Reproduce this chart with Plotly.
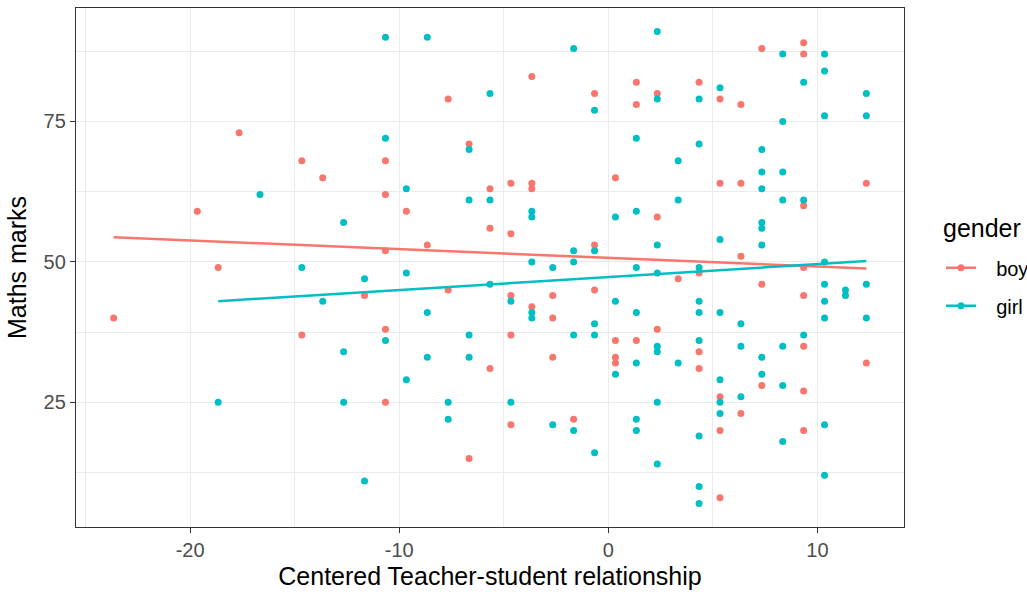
import plotly.graph_objects as go

# Centered teacher-student relationship scores and maths marks, by gender
boy_rel = [
    -23.66, -19.66, -18.66, -17.66, -14.66, -14.66, -13.66, -11.66,
    -10.66, -10.66, -10.66, -10.66, -10.66, -9.66, -8.66, -7.66, -7.66,
    -6.66, -6.66, -5.66, -5.66, -5.66,
    -4.66, -4.66, -4.66, -4.66, -4.66,
    -3.66, -3.66, -3.66, -3.66,
    -2.66, -2.66, -2.66, -1.66,
    -0.66, -0.66, -0.66,
    0.34, 0.34, 0.34, 0.34,
    1.34, 1.34, 1.34,
    2.34, 2.34, 2.34, 3.34,
    4.34, 4.34, 4.34, 4.34,
    5.34, 5.34, 5.34, 5.34, 5.34,
    6.34, 6.34, 6.34, 6.34,
    7.34, 7.34, 7.34,
    9.34, 9.34, 9.34, 9.34, 9.34, 9.34, 9.34, 9.34,
    12.34, 12.34,
]
boy_marks = [
    40, 59, 49, 73, 68, 37, 65, 44,
    68, 62, 52, 38, 25, 59, 53, 79, 45,
    71, 15, 63, 56, 31,
    64, 55, 44, 37, 21,
    83, 64, 63, 42,
    44, 40, 33, 22,
    80, 53, 45,
    65, 36, 33, 32,
    82, 78, 36,
    80, 58, 38, 47,
    82, 48, 34, 31,
    79, 64, 26, 20, 8,
    78, 64, 51, 23,
    88, 46, 28,
    89, 87, 60, 49, 44, 35, 27, 20,
    64, 32,
]

girl_rel = [
    -18.66, -16.66, -14.66, -13.66,
    -12.66, -12.66, -12.66,
    -11.66, -11.66,
    -10.66, -10.66, -10.66,
    -9.66, -9.66, -9.66,
    -8.66, -8.66, -8.66,
    -7.66, -7.66,
    -6.66, -6.66, -6.66, -6.66,
    -5.66, -5.66, -5.66,
    -4.66, -4.66,
    -3.66, -3.66, -3.66, -3.66, -3.66,
    -2.66, -2.66,
    -1.66, -1.66, -1.66, -1.66, -1.66,
    -0.66, -0.66, -0.66, -0.66, -0.66,
    0.34, 0.34, 0.34,
    1.34, 1.34, 1.34, 1.34, 1.34, 1.34, 1.34,
    2.34, 2.34, 2.34, 2.34, 2.34, 2.34, 2.34, 2.34,
    3.34, 3.34, 3.34,
    4.34, 4.34, 4.34, 4.34, 4.34, 4.34, 4.34, 4.34, 4.34,
    5.34, 5.34, 5.34, 5.34, 5.34, 5.34,
    6.34, 6.34, 6.34,
    7.34, 7.34, 7.34, 7.34, 7.34, 7.34, 7.34, 7.34,
    8.34, 8.34, 8.34, 8.34, 8.34, 8.34, 8.34,
    9.34, 9.34, 9.34,
    10.34, 10.34, 10.34, 10.34, 10.34, 10.34, 10.34, 10.34, 10.34,
    11.34, 11.34,
    12.34, 12.34, 12.34, 12.34,
]
girl_marks = [
    25, 62, 49, 43,
    57, 34, 25,
    47, 11,
    90, 72, 36,
    63, 48, 29,
    90, 41, 33,
    25, 22,
    70, 61, 37, 33,
    80, 61, 46,
    43, 25,
    59, 58, 50, 41, 40,
    49, 21,
    88, 52, 50, 37, 20,
    77, 52, 39, 37, 16,
    58, 43, 30,
    72, 59, 49, 41, 32, 22, 20,
    91, 79, 53, 48, 35, 34, 25, 14,
    68, 61, 32,
    79, 71, 49, 43, 41, 36, 19, 10, 7,
    81, 54, 41, 29, 25, 23,
    39, 35, 26,
    70, 66, 63, 57, 56, 53, 33, 30,
    87, 75, 66, 61, 35, 28, 18,
    82, 61, 37,
    87, 84, 76, 50, 46, 43, 40, 21, 12,
    45, 44,
    80, 76, 46, 40,
]

# Fitted model: marks = intercept + slope * centered relationship
groups = ["boy", "girl"]
fit_intercept = [50.72, 47.30]
fit_slope = [-0.155, 0.230]

x_ticks = [-20, -10, 0, 10]
x_tick_labels = ["-20", "-10", "0", "10"]
y_ticks = [25, 50, 75]
y_tick_labels = ["25", "50", "75"]

colors = {"boy": "#F8766D", "girl": "#00BFC4"}
data = {"boy": (boy_rel, boy_marks), "girl": (girl_rel, girl_marks)}

FONT = "Liberation Sans, Arial, sans-serif"
KEY_GAP = "\u00a0\u00a0\u2009"  # space between legend key and its label

fig = go.Figure()

for g in groups:
    x, y = data[g]
    fig.add_trace(go.Scatter(
        x=x, y=y, mode="markers", showlegend=False, hoverinfo="x+y",
        marker=dict(color=colors[g], size=7, line=dict(width=0)),
    ))

for g, a, b in zip(groups, fit_intercept, fit_slope):
    x, _ = data[g]
    lx = [min(x), max(x)]
    ly = [a + b * v for v in lx]
    fig.add_trace(go.Scatter(
        x=lx, y=ly, mode="lines", showlegend=False,
        line=dict(color=colors[g], width=2.5),
    ))

# legend keys: point on a line, as in the scatter + fit
for g in groups:
    fig.add_trace(go.Scatter(
        x=[None], y=[None], mode="lines+markers", name=KEY_GAP + g,
        legendgroup=g,
        line=dict(color=colors[g], width=2.5),
        marker=dict(color=colors[g], size=7),
    ))

axis_common = dict(
    showgrid=True, gridcolor="#EBEBEB", gridwidth=1.2,
    zeroline=False,
    showline=True, linecolor="#333333", linewidth=1.3, mirror=True,
    ticks="outside", ticklen=5, tickwidth=1.2, tickcolor="#333333",
    tickfont=dict(family=FONT, size=20, color="#4D4D4D"),
    tickmode="array",
)

fig.update_layout(
    width=1027, height=594,
    margin=dict(l=76, r=123, t=8, b=67, autoexpand=False),
    plot_bgcolor="white", paper_bgcolor="white",
    font=dict(family=FONT, color="black"),
    xaxis=dict(
        range=[-25.46, 14.14], tickvals=x_ticks, ticktext=x_tick_labels,
        minor=dict(tickmode="linear", dtick=5, tick0=0, showgrid=True,
                   gridcolor="#EBEBEB", gridwidth=0.6, ticks=""),
        title=dict(text="Centered Teacher-student relationship",
                   font=dict(family=FONT, size=25, color="black"), standoff=7),
        **axis_common,
    ),
    yaxis=dict(
        range=[2.8, 95.2], tickvals=y_ticks, ticktext=y_tick_labels,
        minor=dict(tickmode="linear", dtick=12.5, tick0=0, showgrid=True,
                   gridcolor="#EBEBEB", gridwidth=0.6, ticks=""),
        title=dict(text="Maths marks",
                   font=dict(family=FONT, size=25, color="black"), standoff=9),
        **axis_common,
    ),
    legend=dict(
        x=1.0447, xanchor="left", y=0.537, yanchor="top",
        font=dict(family=FONT, size=20, color="black"),
        tracegroupgap=9, bgcolor="rgba(0,0,0,0)",
    ),
    annotations=[dict(
        text="gender", xref="paper", yref="paper",
        x=1.0447, xanchor="left", y=0.576, yanchor="middle",
        showarrow=False, font=dict(family=FONT, size=25, color="black"),
    )],
)

fig.write_html("out.html")
